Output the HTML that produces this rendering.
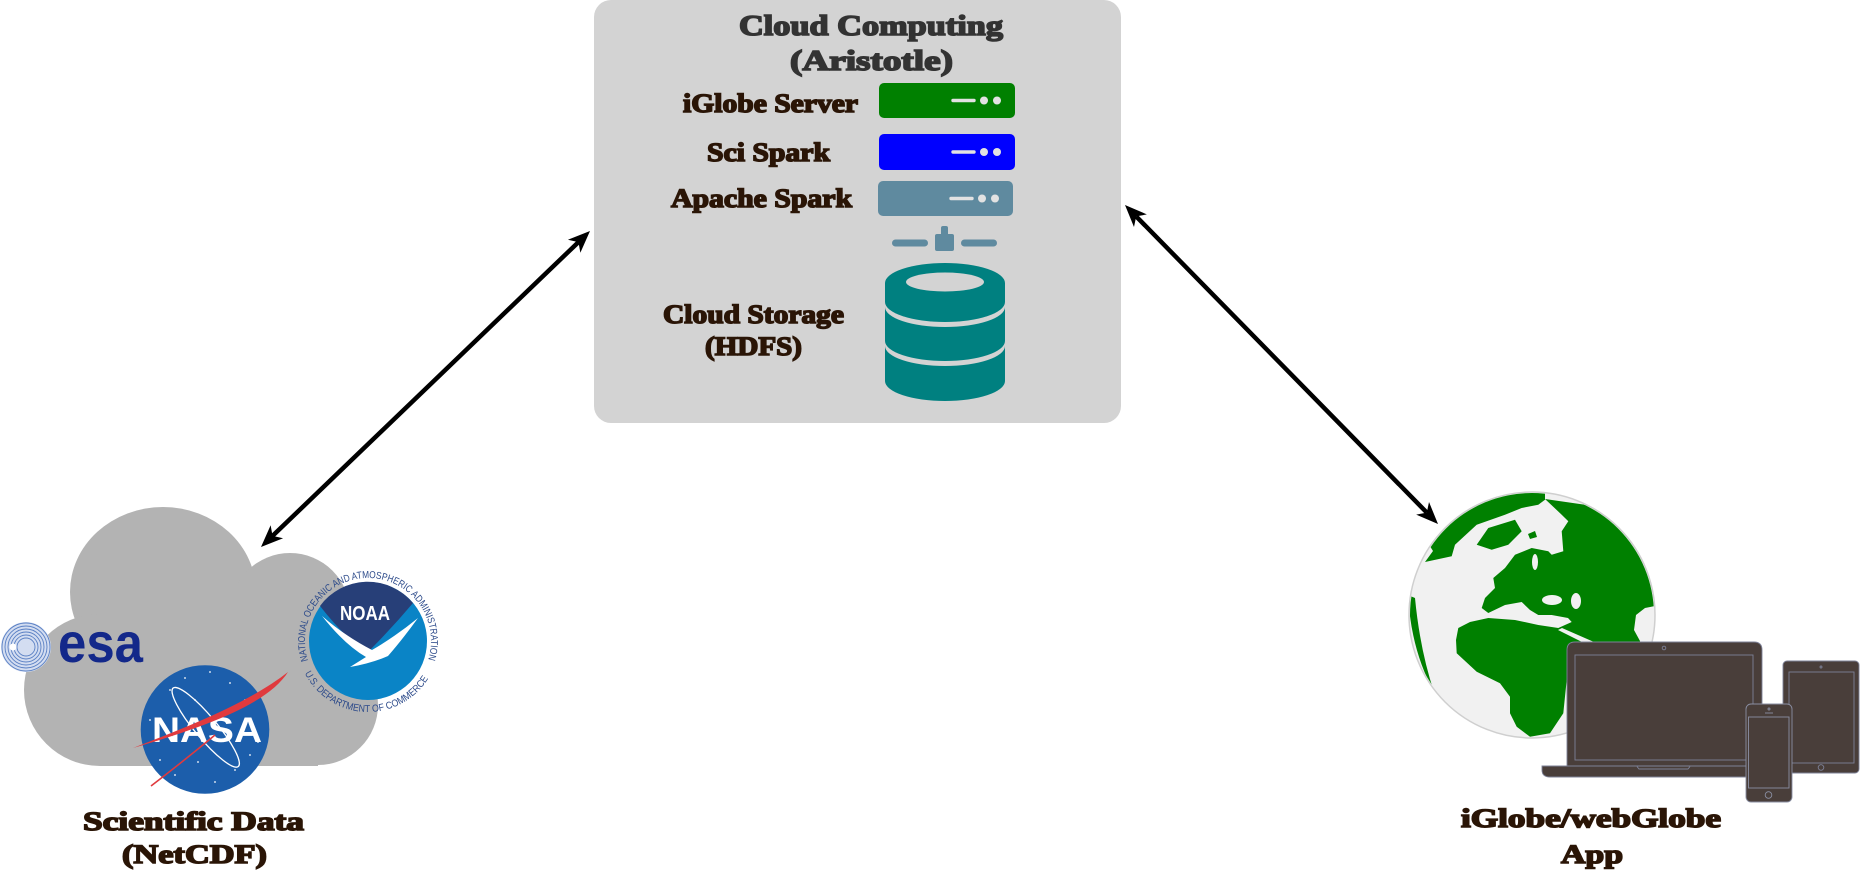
<!DOCTYPE html>
<html>
<head>
<meta charset="utf-8">
<style>
html,body{margin:0;padding:0;background:#fff;overflow:hidden;}
svg{display:block;}
.lb{font-family:"Liberation Serif",serif;font-weight:700;font-size:26px;fill:#2a1506;stroke:#2a1506;stroke-width:1.5;}
.tt{font-family:"Liberation Serif",serif;font-weight:700;font-size:29px;fill:#333;stroke:#333;stroke-width:1.6;}
.rt{font-family:"Liberation Sans",sans-serif;font-size:10px;fill:#2c4a8a;}
</style>
</head>
<body>
<svg width="1860" height="873" viewBox="0 0 1860 873" xmlns="http://www.w3.org/2000/svg">
<defs>
  <clipPath id="gclip"><circle cx="1532" cy="615" r="122"/></clipPath>
  <path id="noaaTop" d="M308.08,660.47 A63,63 0 1 1 427.57,661.51"/>
  <path id="noaaBot" d="M304.74,673.23 A71,71 0 0 0 431.26,673.23"/>
</defs>
<rect width="1860" height="873" fill="#fff"/>

<!-- Cloud computing box -->
<rect x="594" y="0" width="527" height="423" rx="17" fill="#d3d3d3"/>
<text class="tt" x="739" y="35" textLength="264" lengthAdjust="spacingAndGlyphs">Cloud Computing</text>
<text class="tt" x="790" y="70" textLength="163" lengthAdjust="spacingAndGlyphs">(Aristotle)</text>

<text class="lb" x="683" y="112" textLength="175" lengthAdjust="spacingAndGlyphs">iGlobe Server</text>
<text class="lb" x="707" y="161" textLength="123" lengthAdjust="spacingAndGlyphs">Sci Spark</text>
<text class="lb" x="671" y="207" textLength="181" lengthAdjust="spacingAndGlyphs">Apache Spark</text>
<text class="lb" x="663" y="323" textLength="181" lengthAdjust="spacingAndGlyphs">Cloud Storage</text>
<text class="lb" x="705" y="355" textLength="97" lengthAdjust="spacingAndGlyphs">(HDFS)</text>

<!-- servers -->
<rect x="879" y="83" width="136" height="35" rx="5" fill="#008000"/>
<line x1="953" y1="100.5" x2="974" y2="100.5" stroke="#e2e2e2" stroke-width="3.4" stroke-linecap="round"/>
<circle cx="984" cy="100.5" r="4" fill="#e2e2e2"/><circle cx="997" cy="100.5" r="4" fill="#e2e2e2"/>

<rect x="879" y="134" width="136" height="36" rx="5" fill="#0000ff"/>
<line x1="953" y1="152" x2="974" y2="152" stroke="#e2e2e2" stroke-width="3.4" stroke-linecap="round"/>
<circle cx="984" cy="152" r="4" fill="#e2e2e2"/><circle cx="997" cy="152" r="4" fill="#e2e2e2"/>

<rect x="878" y="181" width="135" height="35" rx="5" fill="#5f8a9f"/>
<line x1="951" y1="198.5" x2="972" y2="198.5" stroke="#e2e2e2" stroke-width="3.4" stroke-linecap="round"/>
<circle cx="982" cy="198.5" r="4" fill="#e2e2e2"/><circle cx="995" cy="198.5" r="4" fill="#e2e2e2"/>

<!-- connector -->
<rect x="941" y="226" width="7" height="10" rx="2" fill="#5f8a9f"/>
<rect x="935" y="234" width="19" height="17" rx="2" fill="#5f8a9f"/>
<rect x="892" y="239.5" width="36" height="7" rx="3.5" fill="#5f8a9f"/>
<rect x="961" y="239.5" width="36" height="7" rx="3.5" fill="#5f8a9f"/>

<!-- database -->
<path d="M885,283 A60,20 0 0 1 1005,283 L1005,302 A60,20 0 0 1 885,302 Z" fill="#008080"/>
<ellipse cx="945" cy="282" rx="39" ry="9.5" fill="#d3d3d3"/>
<path d="M885,307 A60,20 0 0 0 1005,307 L1005,341 A60,20 0 0 1 885,341 Z" fill="#008080"/>
<path d="M885,346 A60,20 0 0 0 1005,346 L1005,381 A60,20 0 0 1 885,381 Z" fill="#008080"/>

<!-- arrows -->
<line x1="272.54" y1="535.92" x2="578.46" y2="242.08" stroke="#000" stroke-width="4.5"/>
<polygon points="590,231 580.36,252.73 578.46,242.08 567.90,239.75" fill="#000"/>
<polygon points="261,547 283.10,538.25 272.54,535.92 270.64,525.27" fill="#000"/>

<line x1="1136.21" y1="216.42" x2="1426.79" y2="512.58" stroke="#000" stroke-width="4.5"/>
<polygon points="1438,524 1416.17,514.60 1426.79,512.58 1429.01,502.00" fill="#000"/>
<polygon points="1125,205 1133.99,227.00 1136.21,216.42 1146.83,214.40" fill="#000"/>

<!-- Cloud (scientific data) -->
<g fill="#b3b3b3">
  <ellipse cx="163" cy="592" rx="93" ry="85"/>
  <circle cx="290" cy="613" r="60"/>
  <circle cx="100" cy="690" r="76"/>
  <circle cx="318" cy="705" r="60"/>
  <rect x="100" y="590" width="218" height="176"/>
</g>

<!-- ESA -->
<g>
  <circle cx="26" cy="647" r="25" fill="#d3ddf1"/>
  <g fill="none" stroke="#5a80c4" stroke-width="0.9">
    <circle cx="26" cy="647" r="24"/>
    <circle cx="26" cy="647" r="21"/>
    <circle cx="26" cy="647" r="18"/>
    <circle cx="26" cy="647" r="15"/>
    <circle cx="26" cy="647" r="12"/>
    <circle cx="26" cy="647" r="9"/>
  </g>
  <circle cx="13" cy="647" r="3.5" fill="#fff"/>
  <text x="58" y="662" font-family="Liberation Sans, sans-serif" font-weight="700" font-size="56" fill="#13288a" textLength="85" lengthAdjust="spacingAndGlyphs">esa</text>
</g>

<!-- NOAA -->
<g>
  <circle cx="368" cy="641" r="59" fill="#0a84c6"/>
  <path d="M320,606 Q345,638 367,653 Q392,628 413,603 A59,59 0 0 0 320,606 Z" fill="#273f78"/>
  <path d="M322,616 Q345,645 366,657 L350,667 Q372,663 388,656 Q402,640 418,618 Q396,636 372,650 Q345,636 322,616 Z" fill="#fff"/>
  <text x="340" y="620" font-family="Liberation Sans, sans-serif" font-weight="700" font-size="20" fill="#fff" textLength="50" lengthAdjust="spacingAndGlyphs">NOAA</text>
  <text class="rt"><textPath href="#noaaTop" textLength="236" lengthAdjust="spacingAndGlyphs">NATIONAL OCEANIC AND ATMOSPHERIC ADMINISTRATION</textPath></text>
  <text class="rt"><textPath href="#noaaBot" textLength="150" lengthAdjust="spacingAndGlyphs">U.S. DEPARTMENT OF COMMERCE</textPath></text>
</g>

<!-- NASA -->
<g>
  <circle cx="205" cy="729.5" r="64.3" fill="#1c5eab"/>
  <g fill="#fff">
    <circle cx="170" cy="690" r="0.9"/><circle cx="185" cy="678" r="0.9"/><circle cx="230" cy="683" r="0.9"/>
    <circle cx="245" cy="700" r="0.9"/><circle cx="160" cy="760" r="0.9"/><circle cx="175" cy="775" r="0.9"/>
    <circle cx="235" cy="770" r="0.9"/><circle cx="250" cy="755" r="0.9"/><circle cx="195" cy="700" r="0.9"/>
    <circle cx="215" cy="782" r="0.9"/><circle cx="258" cy="742" r="0.9"/><circle cx="150" cy="720" r="0.9"/>
    <circle cx="210" cy="672" r="0.9"/><circle cx="198" cy="762" r="0.9"/>
  </g>
  <ellipse cx="205.7" cy="727.3" rx="51" ry="11" transform="rotate(50.3 205.7 727.3)" fill="none" stroke="#fff" stroke-width="1.3"/>
  <text x="152" y="742" font-family="Liberation Sans, sans-serif" font-weight="700" font-size="35" fill="#fff" textLength="110" lengthAdjust="spacingAndGlyphs">NASA</text>
  <path d="M133,748 C190,726 250,702 288,672 C270,700 222,722 133,748 Z" fill="#e03a3e"/>
  <path d="M151,786 Q185,760 215,735" fill="none" stroke="#e03a3e" stroke-width="1.6"/>
</g>

<text class="lb" x="83" y="830" textLength="221" lengthAdjust="spacingAndGlyphs">Scientific Data</text>
<text class="lb" x="122" y="863" textLength="145" lengthAdjust="spacingAndGlyphs">(NetCDF)</text>

<!-- Globe -->
<circle cx="1532" cy="615" r="123" fill="#f1f1f1" stroke="#cfcfcf" stroke-width="1.5"/>
<g clip-path="url(#gclip)">
  <g fill="#008000">
    <!-- Eurasia + Africa -->
    <path d="M1545,499 L1586.7,505 L1616.7,520 L1633.3,535 L1646.7,556.7 L1653.3,580 L1655,606 L1645,608 L1636,615 L1634,630 L1640,641 L1640,650 L1600,660 L1566.7,680 L1563.3,713.3 L1550,733.3 L1530,736.7 L1516.7,726.7 L1510,713.3 L1510,696.7 L1500,683.3 L1476.7,671.7 L1456.7,653.3 L1456,640 L1458.3,628 L1470,622 L1488.3,618 L1515,620 L1538.3,625 L1558.3,628 L1571.7,622 L1568,618 L1551.7,615 L1538.3,615 L1530,610 L1521.7,602 L1505,605 L1488.3,613 L1481.7,608 L1485,598 L1495,588 L1493.3,578 L1505,568 L1515,554.7 L1531.7,548 L1548.3,551.3 L1551.7,554.7 L1563.3,551.3 L1561.7,531.3 L1568.3,521.3 L1561.7,514.7 Z"/>
    <!-- top-left arctic band -->
    <path d="M1425,562 L1433,551 L1420,530 L1470,488 L1545,480 L1545,499.7 L1538.3,504.7 L1521.7,508 L1505,514.7 L1476.7,524.7 L1455,544.7 L1451.7,556.3 Z"/>
    <!-- Greenland-ish -->
    <path d="M1476.7,544.7 L1488.3,528 L1515,519.7 L1521.7,531.3 L1508.3,544.7 L1491.7,549.7 Z"/>
    <path d="M1528,534 L1535,531 L1537,537 L1530,539 Z"/>
    <!-- left limb -->
    <path d="M1408,595 Q1411,650 1434,692 Q1420,650 1415,598 Z"/>
  </g>
  <g fill="#f1f1f1">
    <ellipse cx="1552" cy="600" rx="10" ry="5"/>
    <ellipse cx="1576" cy="601" rx="5" ry="8"/>
    <polygon points="1558,630 1562,628 1594,642 1590,646"/>
    <ellipse cx="1535" cy="562" rx="3" ry="8"/>
  </g>
</g>

<!-- Laptop -->
<g stroke="#7d8197" stroke-width="0.9">
  <path d="M1567,766 L1567,650 Q1567,642 1575,642 L1754,642 Q1762,642 1762,650 L1762,766 Z" fill="#493e3a"/>
  <rect x="1575" y="655" width="178" height="105" fill="none"/>
  <circle cx="1664" cy="648" r="1.8" fill="none"/>
  <path d="M1542,766 L1765,766 L1765,777 L1550,777 Q1542,777 1542,770 Z" fill="#493e3a"/>
  <path d="M1637,766.5 L1639,769 L1688,769 L1690,766.5" fill="none"/>
</g>
<!-- Tablet -->
<g stroke="#7d8197" stroke-width="0.9">
  <rect x="1783" y="661" width="76" height="112" rx="4" fill="#493e3a"/>
  <rect x="1789" y="672" width="65" height="91" fill="none"/>
  <circle cx="1821" cy="767.5" r="2.8" fill="none"/>
  <circle cx="1821" cy="667" r="1" fill="none"/>
</g>
<!-- Phone -->
<g stroke="#8a8fa3" stroke-width="0.9">
  <rect x="1746" y="704" width="46" height="98" rx="5" fill="#493e3a"/>
  <rect x="1748.5" y="717" width="40.5" height="71" fill="none"/>
  <circle cx="1768.5" cy="795" r="3.3" fill="none"/>
  <line x1="1765" y1="713" x2="1773" y2="713"/>
  <circle cx="1769" cy="709" r="1" fill="none"/>
</g>

<text class="lb" x="1461" y="827" textLength="260" lengthAdjust="spacingAndGlyphs">iGlobe/webGlobe</text>
<text class="lb" x="1561" y="863" textLength="62" lengthAdjust="spacingAndGlyphs">App</text>
</svg>
</body>
</html>
